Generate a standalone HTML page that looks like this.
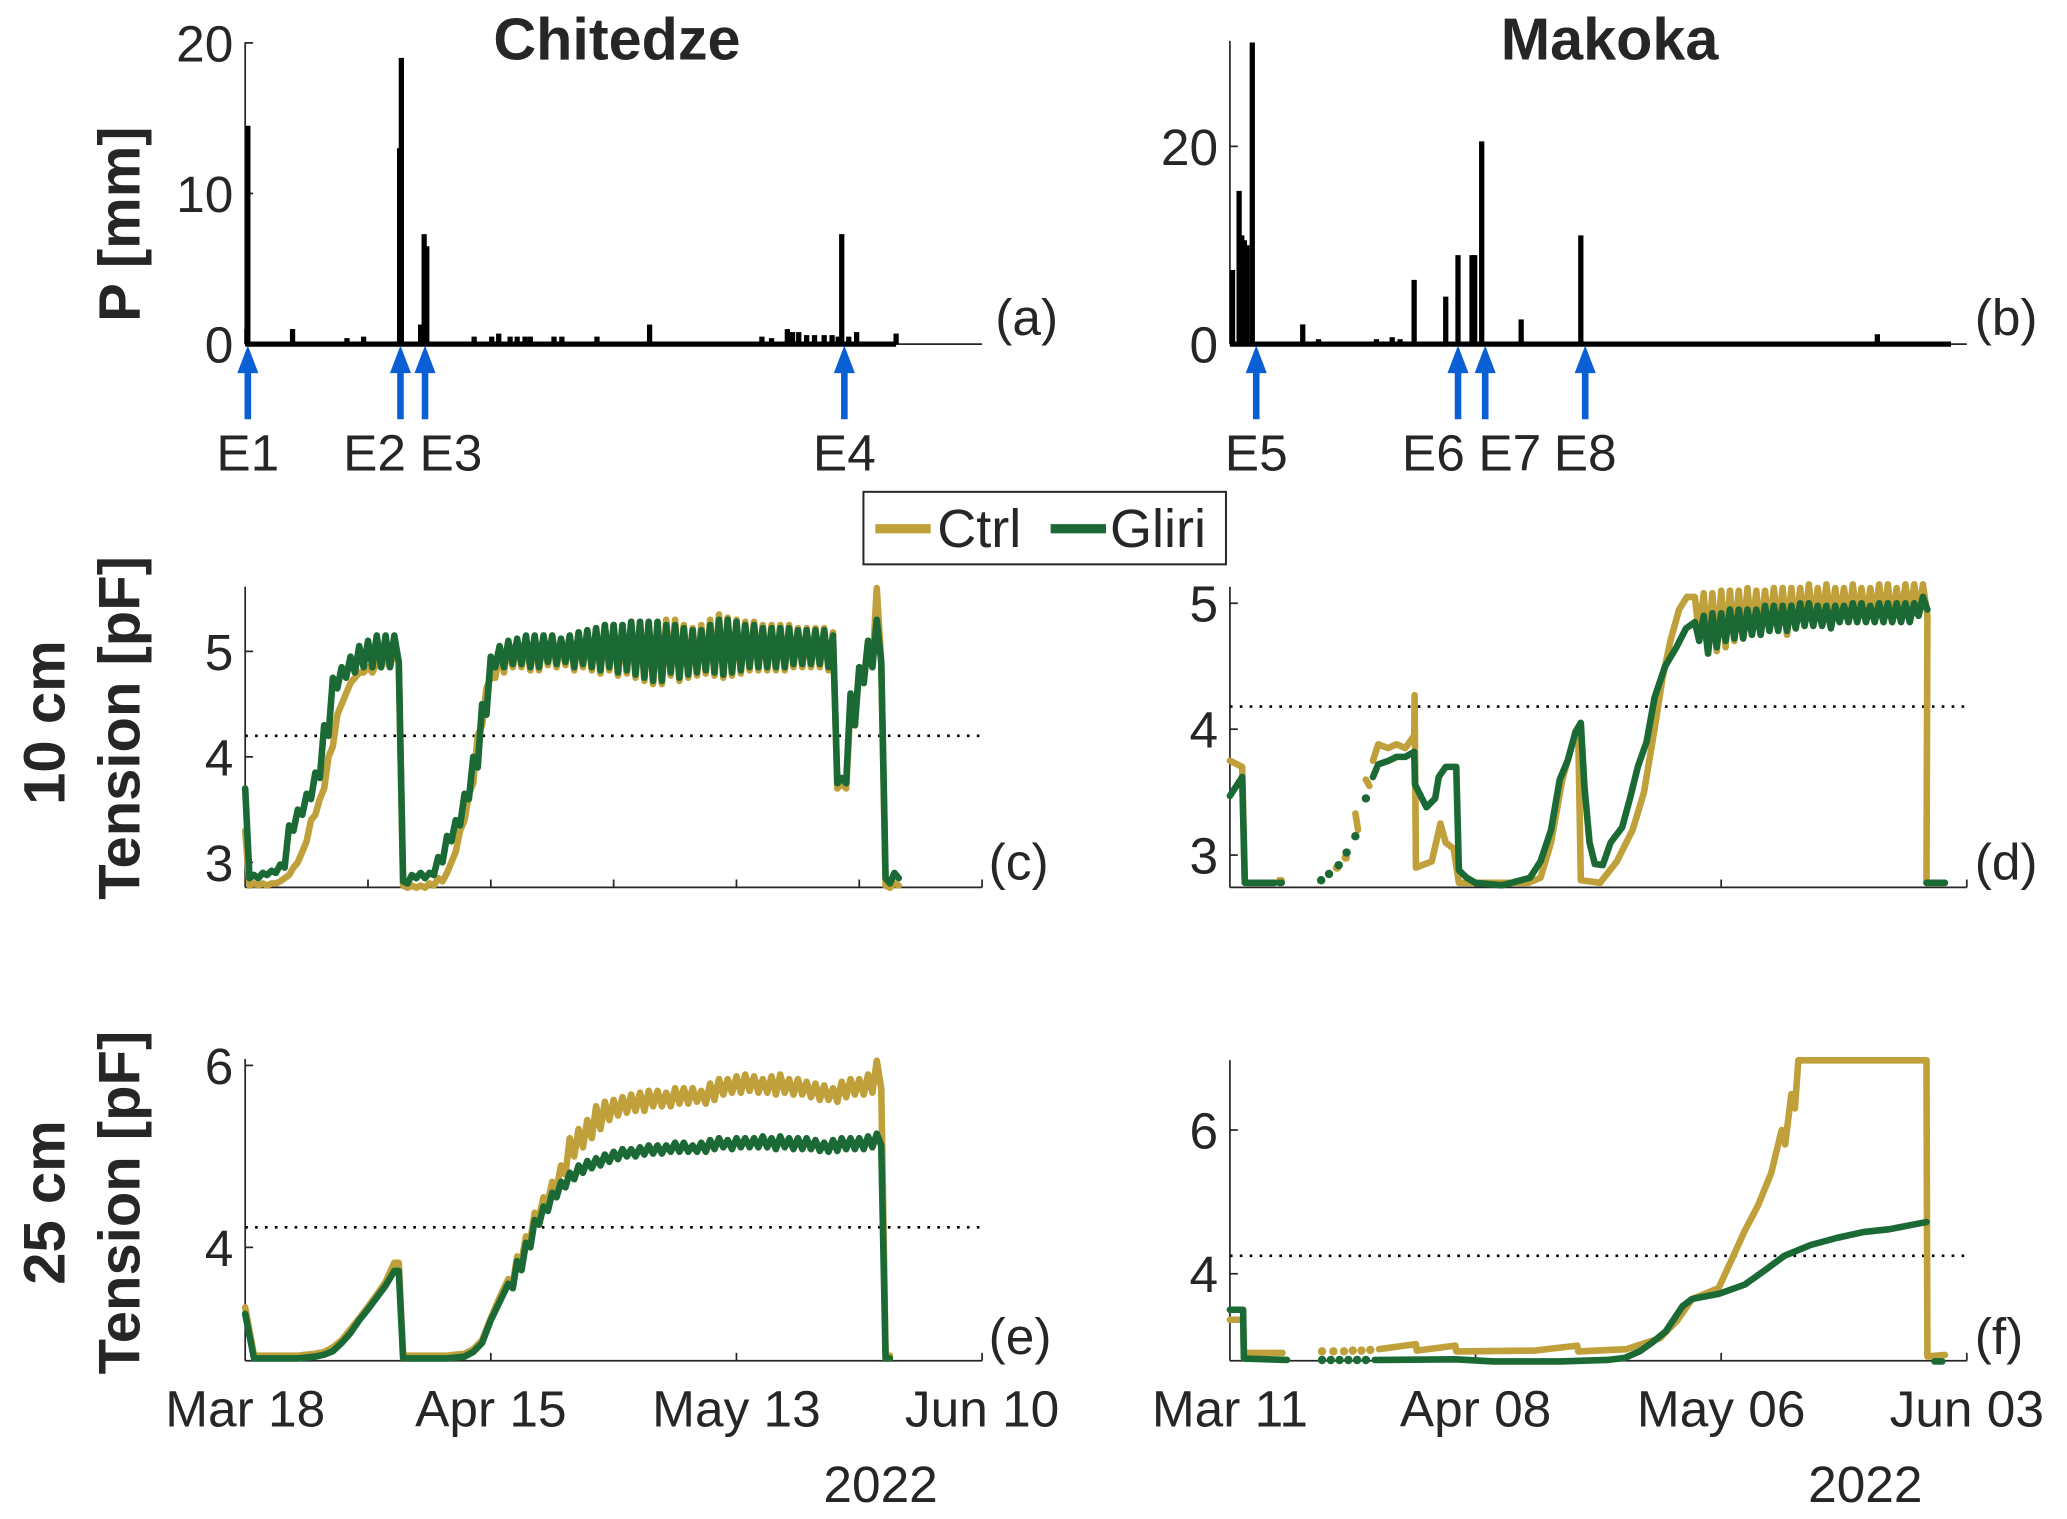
<!DOCTYPE html>
<html><head><meta charset="utf-8"><style>
html,body{margin:0;padding:0;background:#fff;}
svg{display:block;}
text{font-family:"Liberation Sans",Arial,sans-serif;fill:#262626;}
</style></head><body>
<svg id="chart" width="2067" height="1519" viewBox="0 0 1568 1152" preserveAspectRatio="none" xmlns="http://www.w3.org/2000/svg"></svg>
<script>
// ---------- DATA ----------
const precipA_days = [0.2,0.3,5.4,11.6,13.5,17.6,17.8,20.0,20.4,20.7,26.1,28.1,28.9,30.2,31.0,31.9,32.5,35.2,36.1,40.1,46.1,58.9,60.0,61.8,62.4,63.1,64.0,64.9,66.0,66.9,67.6,68.0,68.8,69.7,74.2];
const precipA_mm   = [1.0,14.5,1.0,0.4,0.5,13,19,1.3,7.3,6.5,0.5,0.5,0.7,0.5,0.5,0.5,0.5,0.5,0.5,0.5,1.3,0.5,0.4,1.0,0.8,0.8,0.6,0.6,0.6,0.6,0.5,7.3,0.5,0.8,0.7];
const precipB_days = [0.3,1.05,1.35,1.65,1.95,2.55,8.3,10.1,16.7,18.5,19.4,21.0,24.6,26.0,27.6,27.9,28.7,33.2,40.0,73.8];
const precipB_mm   = [7.5,15.5,11,10.5,10,30.5,2,0.5,0.5,0.7,0.5,6.5,4.8,9,9,9,20.5,2.5,11,1];
const eventsA_days = [0.3,17.7,20.5,68.3];
const eventsA_lbl  = ["E1","E2","E3","E4"];
const eventsB_days = [3.0,26.0,29.1,40.5];
const eventsB_lbl  = ["E5","E6","E7","E8"];

const c_days = Array.from({length:75},(_, i)=>i);
const c_gliri_hi = [3.7,2.88,2.9,2.92,2.98,3.35,3.5,3.65,3.85,4.3, 4.75,4.85,4.95,5.05,5.1,5.15,5.15,5.15,2.82,2.88, 2.9,2.9,3.05,3.25,3.4,3.65,4.0,4.5,4.95,5.05, 5.1,5.12,5.15,5.15,5.15,5.15,5.12,5.15,5.18,5.2, 5.22,5.25,5.25,5.25,5.28,5.28,5.28,5.28,5.25,5.25, 5.22,5.2,5.2,5.25,5.3,5.3,5.28,5.25,5.25,5.22, 5.22,5.22,5.22,5.2,5.2,5.2,5.2,5.15,3.8,4.6, 4.85,5.1,5.3,2.85,2.9];
const c_gliri_lo = [2.85,2.85,2.88,2.9,2.95,3.3,3.45,3.6,3.8,4.2, 4.65,4.75,4.8,4.85,4.85,4.85,4.85,4.9,2.8,2.85, 2.85,2.88,3.0,3.2,3.35,3.6,3.9,4.4,4.85,4.85, 4.88,4.88,4.85,4.85,4.9,4.88,4.9,4.85,4.88,4.85, 4.82,4.85,4.8,4.82,4.78,4.75,4.72,4.72,4.8,4.75, 4.78,4.8,4.82,4.8,4.78,4.8,4.82,4.85,4.85,4.85, 4.85,4.85,4.88,4.88,4.88,4.88,4.85,3.75,3.75,4.3, 4.7,4.85,4.9,2.8,2.85];
const c_ctrl_hi = [3.3,2.8,2.8,2.8,2.82,2.88,3.0,3.2,3.45,3.7, 4.1,4.5,4.7,4.8,4.85,4.9,4.95,5.0,2.78,2.78, 2.78,2.8,2.85,2.9,3.1,3.4,3.75,4.3,4.75,5.0, 5.08,5.1,5.12,5.12,5.15,5.15,5.12,5.15,5.18,5.2, 5.22,5.25,5.25,5.25,5.28,5.28,5.28,5.28,5.3,5.3, 5.25,5.22,5.25,5.3,5.35,5.32,5.3,5.28,5.28,5.25, 5.25,5.25,5.25,5.22,5.22,5.22,5.22,5.18,3.75,4.5, 4.85,5.1,5.6,2.78,2.8];
const c_ctrl_lo = [2.78,2.78,2.78,2.8,2.85,2.95,3.1,3.4,3.6,4.0, 4.4,4.6,4.75,4.8,4.8,4.85,4.85,4.9,2.76,2.76, 2.76,2.78,2.82,3.0,3.3,3.65,4.2,4.65,4.75,4.8, 4.85,4.85,4.82,4.82,4.87,4.85,4.87,4.82,4.85,4.82, 4.79,4.82,4.77,4.79,4.75,4.72,4.69,4.69,4.77,4.72, 4.75,4.77,4.79,4.77,4.75,4.77,4.79,4.82,4.82,4.82, 4.82,4.82,4.85,4.85,4.85,4.85,4.82,3.7,3.7,4.3, 4.7,4.85,4.9,2.76,2.78];

const e_days = Array.from({length:74},(_, i)=>i);
const e_gliri_hi = [3.27,2.78,2.78,2.78,2.78,2.78,2.78,2.79,2.8,2.82, 2.86,2.95,3.06,3.2,3.32,3.45,3.58,3.74,2.78,2.78, 2.78,2.78,2.78,2.78,2.79,2.8,2.85,2.95,3.2,3.4, 3.6,3.85,4.05,4.3,4.45,4.6,4.72,4.82,4.9,4.95, 4.98,5.02,5.05,5.08,5.08,5.1,5.12,5.12,5.12,5.15, 5.15,5.12,5.15,5.18,5.2,5.18,5.2,5.2,5.2,5.22, 5.2,5.22,5.2,5.2,5.2,5.18,5.15,5.18,5.2,5.2, 5.2,5.22,5.25,2.78];
const e_gliri_lo = [null,null,null,null,null,null,null,null,null,null, null,null,null,null,null,null,null,3.74,null,null, null,null,null,null,null,null,null,null,null,null, 3.55,3.75,4.0,4.25,4.4,4.55,4.66,4.75,4.82,4.87, 4.9,4.94,4.97,5.0,5.0,5.02,5.03,5.03,5.05,5.05, 5.05,5.05,5.05,5.08,5.1,5.08,5.1,5.1,5.1,5.1, 5.08,5.1,5.08,5.08,5.08,5.06,5.05,5.06,5.08,5.08, 5.08,5.1,5.12,2.78];
const e_ctrl_hi = [3.34,2.81,2.81,2.81,2.81,2.81,2.81,2.82,2.83,2.85, 2.9,2.98,3.1,3.22,3.35,3.48,3.62,3.83,2.81,2.81, 2.81,2.81,2.81,2.81,2.82,2.83,2.88,2.98,3.22,3.45, 3.65,3.9,4.12,4.38,4.55,4.72,4.9,5.2,5.3,5.4, 5.55,5.6,5.62,5.65,5.68,5.7,5.72,5.72,5.7,5.75, 5.75,5.75,5.72,5.8,5.85,5.85,5.88,5.9,5.88,5.85, 5.88,5.9,5.85,5.85,5.82,5.8,5.78,5.75,5.82,5.85, 5.85,5.9,6.05,2.81];
const e_ctrl_lo = [null,null,null,null,null,null,null,null,null,null, null,null,null,null,null,null,null,3.83,null,null, null,null,null,null,null,null,null,null,null,null, 3.6,3.85,4.08,4.33,4.5,4.65,4.8,5.0,5.1,5.2, 5.3,5.4,5.45,5.48,5.5,5.5,5.55,5.55,5.55,5.58, 5.58,5.6,5.58,5.62,5.68,5.7,5.7,5.72,5.7,5.7, 5.68,5.7,5.68,5.68,5.65,5.62,5.62,5.6,5.65,5.68, 5.68,5.7,5.75,2.81];

const d_gliri_days = [0,1.4,1.7,5.1,null,5.6,5.9,null,10.4,null,11.3,null,12.4,null,13.3,null,14.3,null,15.5,null,16.3,16.9,18.1,19,20,21,21.1,22.4,23.4,23.8,24.6,25.8,26.1,27,28,31,34.2,35.4,36.6,37.6,38.5,39.4,40,40.4,41,41.6,42.5,43.4,44.7,45.6,46.5,47.5,48.4,49.6,50.9,52,53,54,55,56,57,58,59,60,61,62,63,64,65,66,67,68,69,70,71,72,73,74,75,76,77,78,79,null,79.4,81.5];
const d_gliri_hi = [3.47,3.62,2.78,2.78,null,2.78,2.78,null,2.8,null,2.85,null,2.92,null,3.02,null,3.15,null,3.45,null,3.62,3.72,3.75,3.78,3.78,3.82,3.56,3.38,3.45,3.62,3.7,3.7,2.88,2.82,2.78,2.76,2.82,2.95,3.2,3.6,3.75,3.98,4.05,3.55,3.1,2.93,2.92,3.1,3.22,3.45,3.7,3.9,4.25,4.5,4.65,4.8,4.85,4.9,4.92,4.92,4.95,4.95,4.95,4.95,4.98,4.98,4.98,4.98,5.0,5.0,4.98,4.98,4.98,4.98,5.0,5.0,4.98,5.0,5.0,5.0,5.0,5.0,5.05,null,2.78,2.78];
const d_gliri_lo = [null,null,null,null,null,null,null,null,null,null,null,null,null,null,null,null,null,null,null,null,null,null,null,null,null,null,null,null,null,null,null,null,null,null,null,null,null,null,null,null,null,null,null,null,null,null,null,null,null,null,null,null,null,null,null,null,4.7,4.6,4.65,4.7,4.72,4.72,4.75,4.75,4.78,4.78,4.78,4.8,4.82,4.82,4.82,4.8,4.85,4.85,4.85,4.85,4.85,4.85,4.85,4.85,4.85,4.9,4.95,null,null,null];
const d_ctrl_days = [0,1.4,1.7,5,null,5.6,5.9,null,12.2,null,13.2,null,14.3,14.6,null,15.5,15.9,null,16.3,16.9,18,19,20,21,21.05,21.2,23,24,24.6,25.5,26.1,30,34,35.4,36.6,37.9,39.1,39.7,40,42.2,44.1,45.9,47.2,48.4,49.3,50.2,51.2,52.1,53,54,55,56,57,58,59,60,61,62,63,64,65,66,67,68,69,70,71,72,73,74,75,76,77,78,79,79.4,81.5];
const d_ctrl_hi = [3.75,3.7,2.78,2.78,null,2.8,2.8,null,2.9,null,2.98,null,3.33,3.2,null,3.6,3.55,null,3.75,3.88,3.85,3.88,3.85,3.95,4.27,2.9,2.95,3.25,3.1,3.05,2.78,2.78,2.78,2.82,3.1,3.6,3.9,4.0,2.8,2.78,2.95,3.2,3.5,4.0,4.4,4.7,4.95,5.05,5.05,5.08,5.08,5.1,5.1,5.1,5.12,5.1,5.1,5.12,5.12,5.12,5.12,5.15,5.12,5.15,5.12,5.12,5.15,5.12,5.12,5.15,5.15,5.12,5.15,5.15,5.15,2.78,2.78];
const d_ctrl_lo = [null,null,null,null,null,null,null,null,null,null,null,null,null,null,null,null,null,null,null,null,null,null,null,null,null,null,null,null,null,null,null,null,null,null,null,null,null,null,null,null,null,null,null,null,null,null,null,null,4.75,4.65,4.62,4.65,4.7,4.72,4.75,4.75,4.78,4.8,4.75,4.8,4.82,4.82,4.85,4.85,4.85,4.85,4.85,4.85,4.88,4.85,4.85,4.88,4.9,4.9,4.9,null,null];

const f_gliri_days = [0,1.5,1.6,6.5,null,10.5,null,11.5,null,12.5,null,13.5,null,14.5,null,15.5,null,16.5,17.4,25.7,30,37.7,43,45,46.7,48.2,49.7,51.6,52.7,55.7,58.7,61,63.2,66.2,69.2,72.2,75.2,79.4,null,80.3,81.2];
const f_gliri_val  = [3.5,3.5,2.82,2.8,null,2.8,null,2.8,null,2.8,null,2.8,null,2.8,null,2.8,null,2.8,2.8,2.81,2.78,2.78,2.8,2.83,2.92,3.05,3.2,3.55,3.65,3.72,3.85,4.05,4.25,4.4,4.5,4.58,4.62,4.72,null,2.78,2.78];
const f_ctrl_days = [0,1.5,1.6,6,null,10.5,null,11.8,null,13,null,14,null,15,null,16,null,17,21.2,21.3,25.7,25.8,34.7,39.6,39.7,45.2,49,51,52.7,55.7,57.2,58.7,60.2,61.7,62.5,62.9,63.3,64,64.4,64.8,79.4,79.5,81.5];
const f_ctrl_val  = [3.36,3.36,2.9,2.9,null,2.92,null,2.92,null,2.92,null,2.93,null,2.93,null,2.94,null,2.95,3.02,2.93,3.0,2.92,2.93,3.0,2.92,2.95,3.1,3.35,3.65,3.8,4.2,4.6,4.95,5.4,5.8,6.0,5.8,6.5,6.3,6.97,6.97,2.85,2.87];

const thresholds = {c:4.2, d:4.18, e:4.22, f:4.25};
const xTickLabelsA = ["Mar 18","Apr 15","May 13","Jun 10"];
const xTickLabelsB = ["Mar 11","Apr 08","May 06","Jun 03"];
const xTickDays = [0,28,56,84];

// ---------- RENDER ----------
const NS="http://www.w3.org/2000/svg";
const svg=document.getElementById('chart');
const GOLD="#BFA03A", GREEN="#1B6A35";
const FS=39;
function el(tag,attrs,parent){const e=document.createElementNS(NS,tag);for(const k in attrs)e.setAttribute(k,attrs[k]);(parent||svg).appendChild(e);return e;}
function txt(s,x,y,size,anchor,weight,parent){const t=el('text',{x:x,y:y,'font-size':size,'text-anchor':anchor||'middle','font-weight':weight||'normal'},parent);t.textContent=s;return t;}
function lin(d0,d1,r0,r1){return v=>r0+(v-d0)*(r1-r0)/(d1-d0);}

const xA=lin(0,84,186,745), xB=lin(0,84,933,1492);
const panels={
 a:{x:xA,y:lin(0,20,261,32.5),left:186,right:745,top:32,bottom:261},
 b:{x:xB,y:lin(0,20,261,111),left:933,right:1492,top:31,bottom:261},
 c:{x:xA,y:lin(4,5,574,494),left:186,right:745,top:445,bottom:673},
 d:{x:xB,y:lin(4,5,553,457.5),left:933,right:1492,top:445,bottom:673},
 e:{x:xA,y:lin(4,6,946,808),left:186,right:745,top:803,bottom:1032},
 f:{x:xB,y:lin(4,6,966,857),left:933,right:1492,top:804,bottom:1032}
};

function axes(key,yticks,xticksEvery,showXLabels,xLabels){
  const p=panels[key];
  const g=el('g',{});
  
  
  el('line',{x1:p.left,y1:p.top,x2:p.left,y2:p.bottom,stroke:'#262626','stroke-width':1.3},g);
  el('line',{x1:p.left,y1:p.bottom,x2:p.right,y2:p.bottom,stroke:'#262626','stroke-width':1.3},g);
  yticks.forEach(v=>{
    const y=p.y(v);
    el('line',{x1:p.left,y1:y,x2:p.left+6,y2:y,stroke:'#262626','stroke-width':1.3},g);
    const t=txt(String(v),p.left-9,y+14,FS,'end','normal',g);
    
    
  });
  if(xticksEvery){
    for(let d=xticksEvery;d<=84;d+=xticksEvery){
      const x=p.x(d);
      el('line',{x1:x,y1:p.bottom,x2:x,y2:p.bottom-6,stroke:'#262626','stroke-width':1.3},g);
    }
  }
  if(showXLabels){
    xTickDays.forEach((d,i)=>{
      const t=txt(xLabels[i],p.x(d),1082,FS,'middle','normal',g);
      
      
    });
  }
  return g;
}

function panelLabel(s,x,y){const t=txt(s,x,y,FS,'start');}

let t;
t=txt('Chitedze',468,45,45,'middle','bold');t.setAttribute('fill','#000');
t=txt('Makoka',1221,45,45,'middle','bold');t.setAttribute('fill','#000');
function vtext(s,x,y,size,name){const tt=el('text',{x:0,y:0,'font-size':size,'text-anchor':'middle','font-weight':'bold',fill:'#262626',transform:`translate(${x},${y}) rotate(-90)`});tt.textContent=s;}
vtext('P [mm]',106,170,44,'y-axis-title-precip');
vtext('Tension [pF]',106,552,44,'y-axis-title-10cm');
vtext('10 cm',49,548,44,'row-label-10cm');
vtext('Tension [pF]',106,912,44,'y-axis-title-25cm');
vtext('25 cm',49,912,44,'row-label-25cm');

function precip(key,days,mm){
  const p=panels[key];
  axes(key,key==='a'?[0,10,20]:[0,20],0,false);
  const g=el('g',{});
  
  
  const last=days[days.length-1];
  const end=key==='a'?last:82.2;
  el('line',{x1:p.x(0),y1:p.bottom,x2:p.x(end),y2:p.bottom,stroke:'#000','stroke-width':4},g);
  days.forEach((d,i)=>{
    const b=el('line',{x1:p.x(d),y1:p.bottom,x2:p.x(d),y2:p.y(mm[i]),stroke:'#000','stroke-width':4},g);
    
    
  });
}
precip('a',precipA_days,precipA_mm);
precip('b',precipB_days,precipB_mm);

function arrows(key,days,lbls){
  const p=panels[key];
  const xs=days.map(d=>p.x(d));
  days.forEach((d,i)=>{
    const x=xs[i];
    const g=el('g',{});
    
    
    el('line',{x1:x,y1:318,x2:x,y2:278,stroke:'#0A5FD4','stroke-width':5},g);
    el('polygon',{points:`${x},262 ${x-8},283 ${x+8},283`,fill:'#0A5FD4'},g);
    // avoid overlapping labels: push apart neighbours closer than label width
    let lx=x;
    const W=58;
    if(i>0&&xs[i]-xs[i-1]<W) lx=x+(W-(xs[i]-xs[i-1]))/2;
    if(i<xs.length-1&&xs[i+1]-xs[i]<W) lx=x-(W-(xs[i+1]-xs[i]))/2;
    const tt=txt(lbls[i],lx,357,FS,'middle','normal',g);
    tt.setAttribute('fill','#000');
  });
}
arrows('a',eventsA_days,eventsA_lbl);
arrows('b',eventsB_days,eventsB_lbl);
panelLabel('(a)',755,254);panelLabel('(b)',1498,254);

axes('c',[3,4,5],14,false);
axes('d',[3,4,5],28,false);
axes('e',[4,6],28,true,xTickLabelsA);
axes('f',[4,6],28,true,xTickLabelsB);
panelLabel('(c)',750,667);panelLabel('(d)',1498,667);
panelLabel('(e)',750,1027);panelLabel('(f)',1498,1027);

function threshold(key){
  const p=panels[key];const y=p.y(thresholds[key]);
  const l=el('line',{x1:p.left,y1:y,x2:p.right,y2:y,stroke:'#000','stroke-width':2,'stroke-dasharray':'2 5.5'});
  
  
}
['c','d','e','f'].forEach(threshold);

function series(key,days,hi,lo,color,name){
  const p=panels[key];
  const g=el('g',{});
  
  
  const segs=[];let cur=[];
  days.forEach((d,i)=>{
    if(d===null||hi[i]===null){if(cur.length)segs.push(cur);cur=[];return;}
    cur.push([p.x(d),p.y(hi[i])]);
    if(lo&&lo[i]!==null&&lo[i]!==undefined){cur.push([p.x(d+0.5),p.y(lo[i])]);}
  });
  if(cur.length)segs.push(cur);
  segs.forEach(s=>{
    if(s.length===1){el('circle',{cx:s[0][0],cy:s[0][1],r:3.2,fill:color},g);}
    else el('polyline',{points:s.map(q=>q[0].toFixed(1)+','+q[1].toFixed(1)).join(' '),fill:'none',stroke:color,'stroke-width':5,'stroke-linejoin':'round','stroke-linecap':'round'},g);
  });
}
series('c',c_days,c_ctrl_hi,c_ctrl_lo,GOLD,'ctrl-line-c');
series('c',c_days,c_gliri_hi,c_gliri_lo,GREEN,'gliri-line-c');
series('d',d_ctrl_days,d_ctrl_hi,d_ctrl_lo,GOLD,'ctrl-line-d');
series('d',d_gliri_days,d_gliri_hi,d_gliri_lo,GREEN,'gliri-line-d');
series('e',e_days,e_ctrl_hi,e_ctrl_lo,GOLD,'ctrl-line-e');
series('e',e_days,e_gliri_hi,e_gliri_lo,GREEN,'gliri-line-e');
series('f',f_ctrl_days,f_ctrl_val,null,GOLD,'ctrl-line-f');
series('f',f_gliri_days,f_gliri_val,null,GREEN,'gliri-line-f');

t=txt('2022',668,1139,FS);
t=txt('2022',1415,1139,FS);

const lg=el('g',{});


el('rect',{x:655,y:373,width:275,height:55,fill:'#fff',stroke:'#262626','stroke-width':1.5},lg);
el('line',{x1:664,y1:401,x2:706,y2:401,stroke:GOLD,'stroke-width':7},lg);
let lt=txt('Ctrl',711,415,41,'start','normal',lg);lt.setAttribute('fill','#000');
el('line',{x1:797,y1:401,x2:839,y2:401,stroke:GREEN,'stroke-width':7},lg);
lt=txt('Gliri',842,415,41,'start','normal',lg);lt.setAttribute('fill','#000');
</script>
</body></html>
